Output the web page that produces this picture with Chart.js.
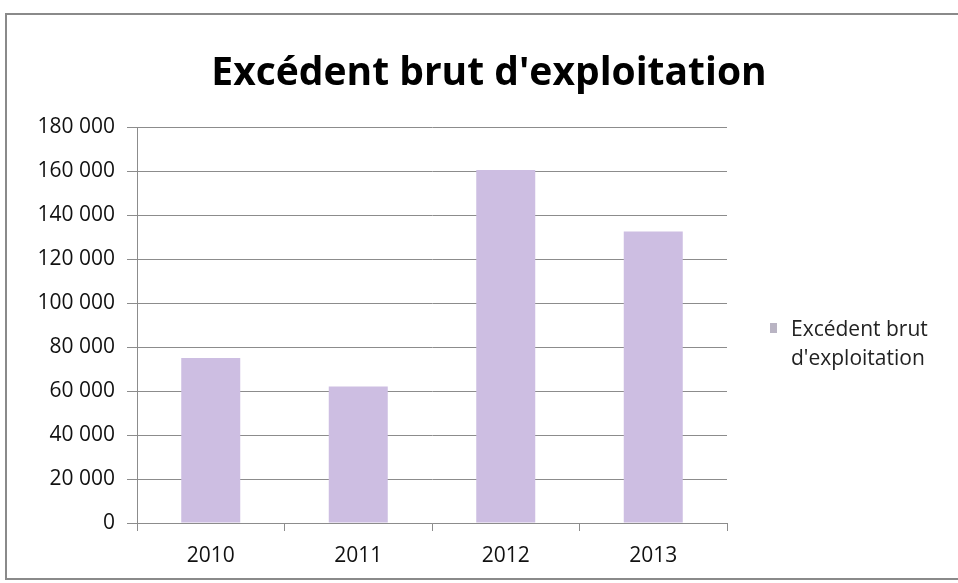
<!DOCTYPE html>
<html>
<head>
<meta charset="utf-8">
<script src="https://cdn.jsdelivr.net/npm/chart.js@4"></script>
<style>
  body { margin: 0; background: #fff; }
  #box {
    position: absolute; left: 5px; top: 13px;
    width: 960px; height: 563px;
    border: 2px solid #8a8a8a;
  }
  #wrap { position: relative; width: 951px; height: 563px; }
</style>
</head>
<body>
<div id="box"><div id="wrap"><canvas id="myChart"></canvas></div></div>
<script>
const years = ['2010', '2011', '2012', '2013'];
const ebeValues = [75000, 62000, 160500, 132500];
const seriesName = "Excédent brut d'exploitation";
const legendLines = ['Excédent brut', "d'exploitation"];
const chartTitle = "Excédent brut d'exploitation";

const barColor = 'rgb(205, 190, 226)';
const gridColor = '#8c8c8c';
const fontFamily = "'Open Sans', 'Liberation Sans', sans-serif";

function spaced(v) {
  return String(v).replace(/\B(?=(\d{3})+(?!\d))/g, ' ');
}

// title and legend drawn by hand so they sit where the original has them
const decorPlugin = {
  id: 'decor',
  afterDraw(chart) {
    const ctx = chart.ctx;
    ctx.save();
    ctx.fillStyle = '#000';
    ctx.font = 'bold 39px ' + fontFamily;
    ctx.textAlign = 'center';
    ctx.textBaseline = 'middle';
    ctx.fillText(chartTitle, 482, 59);

    ctx.fillStyle = 'rgb(185, 180, 195)';
    ctx.fillRect(763, 308, 7, 10);
    ctx.fillStyle = '#222';
    ctx.font = '21px ' + fontFamily;
    ctx.textAlign = 'left';
    legendLines.forEach((line, i) => {
      ctx.fillText(line, 784, 315 + i * 29);
    });
    ctx.restore();
  }
};

const myChart = new Chart(document.getElementById('myChart'), {
  type: 'bar',
  data: {
    labels: years,
    datasets: [{
      label: seriesName,
      data: ebeValues,
      backgroundColor: barColor,
      borderWidth: 0,
      barPercentage: 0.5,
      categoryPercentage: 0.8
    }]
  },
  options: {
    responsive: true,
    maintainAspectRatio: false,
    animation: false,
    layout: { padding: { top: 112, right: 231, left: 0, bottom: 0 } },
    plugins: {
      legend: { display: false },
      title: { display: false },
      tooltip: { enabled: false }
    },
    scales: {
      y: {
        min: 0,
        max: 180000,
        ticks: {
          stepSize: 20000,
          color: '#111',
          padding: 12,
          font: { family: fontFamily, size: 21 },
          callback: v => spaced(v)
        },
        grid: { color: gridColor, tickLength: 10 },
        border: { color: gridColor },
        afterFit: scale => { scale.width = 130; }
      },
      x: {
        ticks: {
          color: '#111',
          padding: 12,
          font: { family: fontFamily, size: 21 }
        },
        grid: { drawOnChartArea: false, color: gridColor, tickLength: 8 },
        border: { color: gridColor },
        afterFit: scale => { scale.height = 55; }
      }
    }
  },
  plugins: [decorPlugin]
});
</script>
</body>
</html>
